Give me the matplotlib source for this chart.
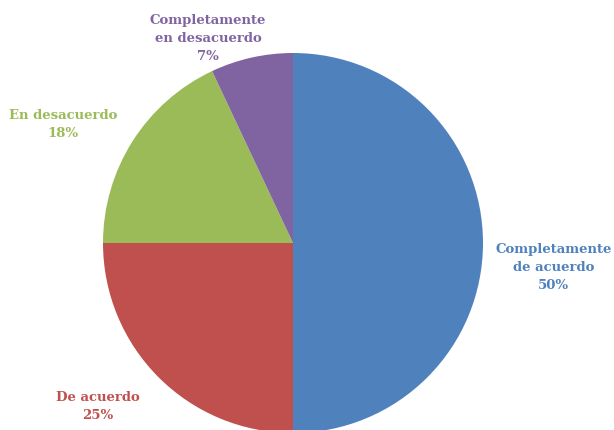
import matplotlib.pyplot as plt

categories = ['Completamente\nde acuerdo', 'De acuerdo', 'En desacuerdo', 'Completamente\nen desacuerdo']
values = [50, 25, 18, 7]
colors = ['#4F81BD', '#C0504D', '#9BBB59', '#8064A2']
# where each label sits, in pie-radius units
label_pos = [(1.372, -0.126), (-1.026, -0.853), (-1.21, 0.63), (-0.447, 1.084)]

fig = plt.figure(figsize=(6.14, 4.31), dpi=100)
fig.patch.set_facecolor('white')
# axes box sized in pixels so the pie fills the middle of the figure
ax = fig.add_axes([103 / 614, -3 / 431, 380 / 614, 380 / 431])

ax.pie(values, colors=colors, startangle=90, counterclock=False, radius=1,
       wedgeprops={'linewidth': 0})
ax.set_xlim(-1, 1)
ax.set_ylim(-1, 1)
ax.set_aspect('equal')
ax.axis('off')

for cat, val, col, (x, y) in zip(categories, values, colors, label_pos):
    ax.text(x, y, f'{cat}\n{val}%', color=col, ha='center', va='center',
            fontsize=9.5, fontweight='bold', family='DejaVu Serif',
            linespacing=1.5, clip_on=False)

plt.savefig('out.png', dpi=100)
